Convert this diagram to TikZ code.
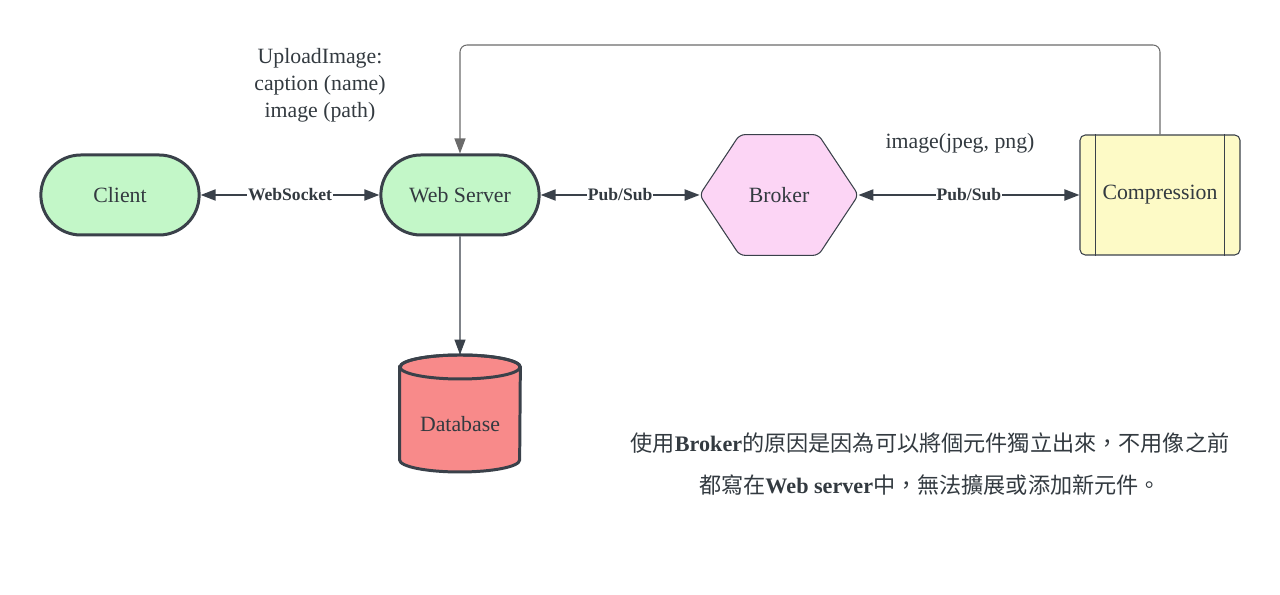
\documentclass[tikz,border=0pt]{standalone}
\usepackage{fontspec}
\setmainfont{Liberation Serif}
\newfontfamily\cjk{Noto Sans CJK TC}
\usepackage{tikz}
\usetikzlibrary{arrows.meta,shapes.misc}
\definecolor{edgecol}{HTML}{3A414A}
\definecolor{textcol}{HTML}{333A40}
\definecolor{greenfill}{HTML}{C3F7C8}
\definecolor{pinkfill}{HTML}{FCD5F5}
\definecolor{yellowfill}{HTML}{FDFAC6}
\definecolor{redfill}{HTML}{F88A8A}
\definecolor{loopcol}{HTML}{6B6B6B}
\tikzset{
	nodefont/.style={font=\fontsize{12.4}{15}\selectfont, text=textcol},
	stadium/.style={rounded rectangle, draw=edgecol, line width=1.7pt, fill=greenfill, minimum width=3.4cm, minimum height=1.6cm, nodefont},
	hexbox/.style={minimum width=3.16cm, minimum height=2.4cm, inner sep=0pt, nodefont},
	procbox/.style={draw=edgecol, line width=0.6pt, rounded corners=3pt, fill=yellowfill, minimum width=3.2cm, minimum height=2.4cm, nodefont},
	dbbox/.style={minimum width=2.4cm, minimum height=2.34cm, inner sep=0pt},
	link/.style={{Triangle[length=0.3cm,width=0.22cm]}-{Triangle[length=0.3cm,width=0.22cm]}, edgecol, line width=1.1pt},
	feed/.style={-{Triangle[length=0.3cm,width=0.22cm]}, loopcol, line width=0.6pt},
	linklabel/.style={font=\bfseries\fontsize{10}{12}\selectfont, text=textcol, fill=white, inner sep=0.4pt},
	note/.style={font=\fontsize{12.4}{15.3}\selectfont, text=textcol, align=center}
}
\begin{document}
\begin{tikzpicture}[]
		\useasboundingbox (0,0) rectangle (25.6,11.9);
		\node [stadium] (client) at (2.4,8.0) {Client};
		\node [stadium] (web) at (9.2,8.0) {Web Server};
		\node [hexbox] (broker) at (15.58,8.0) {};
		\node [procbox] (comp) at (23.2,8.0) {};
		\node [dbbox] (db) at (9.2,3.63) {};
		\coordinate (top) at (0,11.0);
		\fill[pinkfill, draw=edgecol, line width=0.6pt, rounded corners=3pt] (broker.west) -- ([xshift=0.8cm]broker.north west) -- ([xshift=-0.8cm]broker.north east) -- (broker.east) -- ([xshift=-0.8cm]broker.south east) -- ([xshift=0.8cm]broker.south west) -- cycle;
		\node [nodefont] at (broker.center) {Broker};
		\draw[edgecol, line width=0.6pt] ([xshift=0.32cm]comp.north west) -- ([xshift=0.32cm]comp.south west);
		\draw[edgecol, line width=0.6pt] ([xshift=-0.32cm]comp.north east) -- ([xshift=-0.32cm]comp.south east);
		\node [nodefont] at (comp.center) {Compression};
		\filldraw[fill=redfill, draw=edgecol, line width=1.7pt] (db.west |- 0,4.56) -- (db.west |- 0,2.70) arc[start angle=180, end angle=360, x radius=1.2, y radius=0.24] -- (db.east |- 0,4.56) arc[start angle=0, end angle=180, x radius=1.2, y radius=0.24] -- cycle;
		\draw[edgecol, line width=1.7pt] (9.2,4.56) ellipse [x radius=1.2, y radius=0.24];
		\node [nodefont] at (9.2,3.42) {Database};
		\draw[link] (client) -- node[linklabel] {WebSocket} (web);
		\draw[link] (web) -- node[linklabel] {Pub/Sub} (broker.west);
		\draw[link] (broker.east) -- node[linklabel] {Pub/Sub} (comp);
		\draw[feed, edgecol] (web) -- (db.north);
		\draw[feed, rounded corners=4pt] (comp.north) -- (comp.north |- top) -- (web.north |- top) -- (web.north);
		\node [note] at (6.4,10.2) {UploadImage:\\caption (name)\\image (path)};
		\node [note] at (19.2,9.04) {image(jpeg, png)};
		\node [note, font=\fontsize{12.6}{24}\selectfont] at (18.6,2.62) {{\cjk 使用}\textbf{Broker}{\cjk 的原因是因為可以將個元件獨立出來，不用像之前}\\{\cjk 都寫在}\textbf{Web server}{\cjk 中，無法擴展或添加新元件。}};
\end{tikzpicture}
\end{document}
